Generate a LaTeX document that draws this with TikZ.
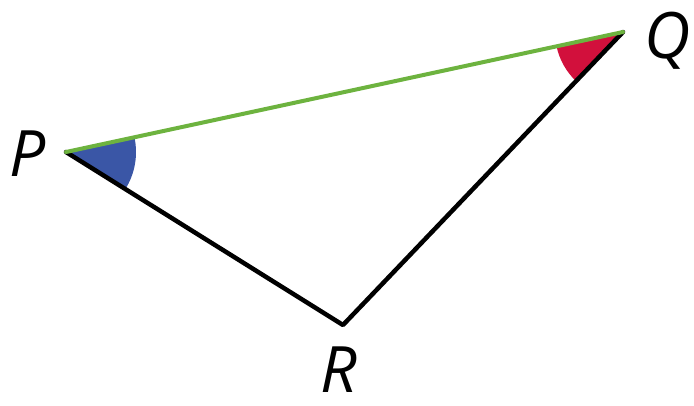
\documentclass[tikz,border=0pt]{standalone}
\usepackage{fontspec}
\setmainfont{Open Sans}
\usetikzlibrary{calc}
\definecolor{angblue}{HTML}{3A56A6}
\definecolor{angred}{HTML}{D2103C}
\definecolor{sidegreen}{HTML}{6DB33F}
\tikzset{
  side/.style={line width=4.5pt, line cap=round, line join=round},
  lbl/.style={font=\fontsize{64}{66}\selectfont\itshape, inner sep=0pt, anchor=base west}
}
\begin{document}
\begin{tikzpicture}[x=1pt,y=1pt]
\useasboundingbox (0,0) rectangle (694,-405);
\coordinate (P) at (66,-152);
\coordinate (Q) at (623,-32);
\coordinate (R) at (343,-325);
\fill[angblue] (P) -- ++(12.1:70) arc[start angle=12.1, end angle=-31.9, radius=70] -- cycle;
\fill[angred] (Q) -- ++(192.1:68) arc[start angle=192.1, end angle=226.3, radius=68] -- cycle;
\draw[side, black] (P) -- (R) -- (Q);
\draw[side, sidegreen, line width=4pt] (P) -- (Q);
\node[lbl] (lP) at (9,-176) {P};
\node[lbl] (lQ) at (644,-58) {Q};
\node[lbl] (lR) at (320,-392) {R};
\end{tikzpicture}
\end{document}
